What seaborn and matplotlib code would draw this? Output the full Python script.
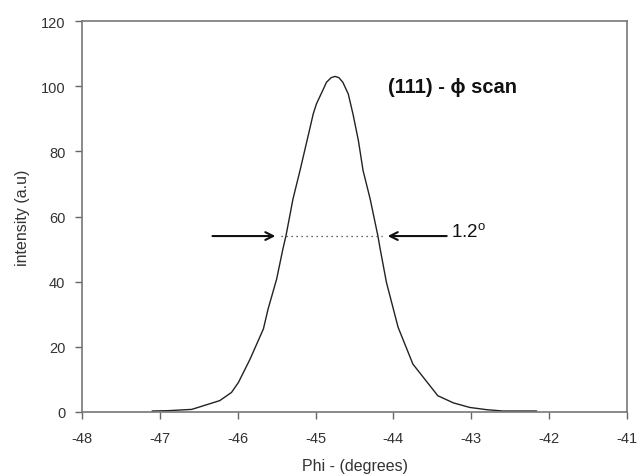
import matplotlib
matplotlib.use("Agg")
import matplotlib.pyplot as plt
import seaborn as sns
import pandas as pd

phi = [-47.10, -46.90, -46.59, -46.23, -46.08, -45.99, -45.84, -45.67, -45.61, -45.50,
       -45.42, -45.38, -45.29, -45.20, -45.10, -45.03, -44.99, -44.90, -44.86, -44.80,
       -44.75, -44.70, -44.65, -44.58, -44.52, -44.45, -44.39, -44.30, -44.20, -44.17,
       -44.09, -43.94, -43.75, -43.43, -43.23, -43.02, -42.80, -42.59, -42.40, -42.16]
intensity = [0.3, 0.4, 0.8, 3.5, 6.0, 9.1, 16.3, 25.5, 31.6, 40.8,
             50.0, 54.1, 65.4, 74.1, 84.3, 91.5, 94.5, 99.1, 101.2, 102.6,
             103.0, 102.6, 101.2, 97.6, 91.5, 83.3, 74.1, 65.5, 54.1, 50.0,
             39.8, 26.0, 14.7, 5.0, 2.8, 1.4, 0.7, 0.3, 0.3, 0.3]

xticks = [-48, -47, -46, -45, -44, -43, -42, -41]
yticks = [0, 20, 40, 60, 80, 100, 120]

fwhm_y = 54
fwhm_left = -45.45
fwhm_right = -44.15
fwhm_text = "1.2$^{\\mathregular{o}}$"
title_text = "(111) - \u03d5 scan"

sns.set_style("white")
plt.rcParams['font.family'] = ['Liberation Sans', 'DejaVu Sans']

df = pd.DataFrame({"phi": phi, "intensity": intensity})

fig = plt.figure(figsize=(6.37, 4.77), dpi=100)
ax = fig.add_axes([82/637, 64/477, 545/637, 391/477])
sns.lineplot(data=df, x="phi", y="intensity", ax=ax, color="#222222", linewidth=1.0)

ax.set_xlim(-48, -41)
ax.set_ylim(0, 120)
ax.set_xticks(xticks)
ax.set_yticks(yticks)
ax.set_xticklabels([str(t) for t in xticks])
ax.set_yticklabels([str(t) for t in yticks])
ax.tick_params(axis='x', pad=9)
ax.tick_params(axis='y', pad=7)
ax.tick_params(axis='both', direction='out', length=5, width=1, color='#666666',
               labelsize=10.5, labelcolor='#333333', bottom=True, left=True)
for s in ax.spines.values():
    s.set_color('#777777')
    s.set_linewidth(1.2)
    s.set_visible(True)

ax.set_xlabel("Phi - (degrees)", fontsize=11.5, color='#333333', labelpad=9)
ax.set_ylabel("intensity (a.u)", fontsize=11.5, color='#333333', labelpad=8)

# FWHM annotation
ax.plot([fwhm_left, fwhm_right], [fwhm_y, fwhm_y], linestyle=(0, (1, 3)), color='#333333', linewidth=0.9)
ax.annotate("", xy=(fwhm_left - 0.03, fwhm_y), xytext=(-46.36, fwhm_y),
            arrowprops=dict(arrowstyle='->', color='#111111', lw=1.5, mutation_scale=14))
ax.annotate("", xy=(fwhm_right + 0.04, fwhm_y), xytext=(-43.28, fwhm_y),
            arrowprops=dict(arrowstyle='->', color='#111111', lw=1.5, mutation_scale=14))
ax.text(-43.26, fwhm_y + 1.5, fwhm_text, fontsize=13.5, color='#111111', va='center', ha='left')
ax.text(-44.07, 100, title_text, fontsize=14.5, fontweight='bold', color='#111111', va='center', ha='left')

fig.savefig("out.png", dpi=100)
